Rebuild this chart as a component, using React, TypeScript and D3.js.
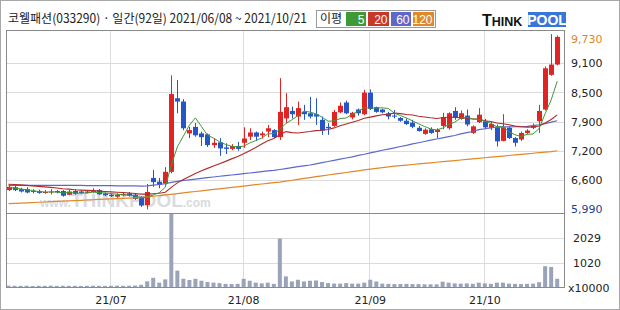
import React from "react";
import * as d3 from "d3";

const title = "코웰패션(033290) · 일간(92일) 2021/06/08 ~ 2021/10/21";
const legendTitle = "이평";
const legendLabels = ["5", "20", "60", "120"];
const legendColors = ["#3f9a35", "#c8382a", "#5f68c8", "#e0892a"];

const opens = [6400,6460,6420,6420,6360,6380,6340,6350,6380,6380,6300,6380,6370,6340,6360,6400,6330,6300,6260,6290,6330,6300,6260,6080,6660,6580,6540,6790,8360,8290,7610,7750,7610,7590,7360,7420,7310,7280,7340,7410,7540,7630,7570,7650,7680,7530,7930,8090,7970,8070,8040,8020,7900,7750,7770,8060,8270,7950,8120,8020,8480,8170,8120,8040,7990,7940,7880,7840,7730,7600,7700,7640,7770,7720,8090,7920,7990,7620,7850,7870,7730,7740,7450,7730,7510,7480,7620,7730,7870,8120,8860,9080];
const highs = [6520,6490,6450,6460,6420,6410,6400,6420,6400,6400,6400,6420,6390,6400,6440,6420,6350,6320,6330,6360,6360,6320,6270,6530,6830,6660,6890,8850,8750,8340,7750,7830,7650,7610,7510,7510,7400,7380,7430,7740,7720,7650,7650,7790,7700,8790,8470,8180,8290,8220,8390,8360,7970,7830,8110,8270,8310,8070,8140,8540,8550,8180,8140,8070,8110,7960,7930,7900,7770,7720,7740,7720,8050,8060,8170,8100,8120,7780,8150,7920,7860,7800,8020,7760,7530,7650,7700,7820,8220,9040,9730,9700];
const lows = [6380,6380,6350,6330,6330,6320,6320,6310,6330,6260,6290,6300,6320,6330,6340,6300,6270,6250,6240,6270,6260,6190,6040,5990,6470,6440,6500,6760,8040,7680,7510,7540,7340,7320,7300,7130,7170,7250,7240,7300,7470,7450,7500,7530,7510,7470,7830,7930,7790,7900,7930,7790,7580,7580,7750,8040,8020,7910,7990,8000,8110,8050,8040,7910,7930,7860,7790,7720,7650,7580,7600,7510,7700,7690,7900,7900,7760,7600,7830,7700,7680,7330,7440,7490,7330,7450,7600,7700,7620,8100,8840,9060];
const closes = [6470,6400,6370,6350,6380,6340,6360,6370,6350,6280,6370,6320,6340,6370,6390,6310,6290,6270,6300,6320,6280,6210,6070,6360,6570,6510,6790,8450,8290,7720,7680,7570,7530,7360,7410,7290,7280,7340,7280,7500,7630,7540,7610,7720,7530,8070,8170,8020,8150,8020,7970,7970,7670,7720,8070,8200,8040,8050,8040,8480,8130,8070,8060,7970,7980,7880,7810,7750,7660,7690,7620,7690,7960,8040,7940,8040,7800,7760,8010,7740,7810,7440,7740,7510,7410,7620,7670,7780,8090,9000,9080,9670];
// closes of the 19 sessions before the window (for the 5/20-day averages)
const priorCloses = [6480,6520,6560,6600,6580,6550,6600,6620,6580,6540,6560,6520,6500,6480,6500,6470,6450,6460,6430];
const ma60 = [6500,6500,6500,6500,6500,6500,6500,6500,6500,6500,6500,6500,6500,6495,6495,6495,6495,6495,6490,6490,6490,6490,6485,6490,6505,6520,6540,6565,6585,6605,6620,6635,6650,6665,6680,6695,6710,6722,6735,6750,6765,6780,6795,6810,6822,6840,6860,6880,6900,6918,6935,6960,6985,7010,7035,7060,7085,7110,7140,7165,7195,7220,7250,7275,7300,7330,7355,7385,7410,7437,7465,7490,7515,7540,7565,7600,7625,7650,7690,7710,7730,7745,7750,7750,7752,7755,7760,7775,7795,7820,7850,7880];
const ma120 = [6110,6116,6122,6128,6134,6140,6146,6152,6158,6164,6170,6176,6182,6188,6194,6200,6206,6212,6218,6224,6229,6234,6240,6255,6268,6282,6296,6310,6325,6340,6355,6370,6385,6400,6414,6428,6442,6456,6470,6485,6500,6515,6530,6545,6558,6572,6590,6610,6630,6650,6668,6686,6704,6722,6740,6758,6776,6794,6812,6830,6848,6864,6880,6895,6910,6922,6934,6946,6958,6970,6982,6994,7006,7018,7030,7042,7054,7066,7078,7090,7102,7114,7126,7138,7150,7162,7174,7186,7198,7210,7222,7240];
// volume in units of 10,000 shares
const volumes = [25,20,18,22,11,20,18,25,15,22,20,18,15,20,22,18,15,20,25,20,22,30,60,205,350,150,285,3038,650,310,260,310,230,175,150,130,100,90,100,310,230,150,120,150,100,1980,410,200,270,200,230,240,175,130,110,110,130,110,110,150,270,200,110,100,90,90,100,90,90,80,80,80,190,150,120,110,120,100,150,120,100,150,150,110,100,90,100,110,170,830,800,310];

const monthIdx = [17, 39, 60, 79];
const monthLabels = ["21/07", "21/08", "21/09", "21/10"];
const priceTickLabels = ["9,730", "9,100", "8,500", "7,900", "7,200", "6,600", "5,990"];
const volTickLabels = ["2029", "1020"];
const volUnit = "x10000";

const W = 620, H = 310;
const frameL = 6.5, frameR = 564.5, frameT = 30.5, sepY = 213.5, frameB = 287.5;
const UP = "#e02424", DOWN = "#2456c8";
const FONT = "'DejaVu Sans', 'Noto Sans CJK KR', sans-serif";
const NFONT = "'Liberation Sans', Arial, sans-serif";
const KFONT = "'Noto Sans CJK KR', 'DejaVu Sans', sans-serif";

export default function App() {
  const n = closes.length;
  const x = d3.scaleLinear().domain([0, n - 1]).range([8.5, 557.2]);
  const pMin = d3.min(lows) as number;
  const pMax = d3.max(highs) as number;
  const yP = d3.scaleLinear().domain([pMin, pMax]).range([209.3, 34.1]);
  const vExt = d3.extent(volumes) as [number, number];
  const yV = d3.scaleLinear().domain(vExt).range([287, 214]);

  const all = [...priorCloses, ...closes];
  const off = priorCloses.length;
  const maOf = (k: number) => closes.map((_, i) => d3.mean(all.slice(i + off - k + 1, i + off + 1)) as number);
  const ma5 = maOf(5);
  const ma20 = maOf(20);
  const line = d3.line<number>().x((_, i) => x(i)).y((d) => yP(d));

  const priceTicks = priceTickLabels.map((lab, k) => ({ lab, v: pMax - ((pMax - pMin) * k) / (priceTickLabels.length - 1) }));
  const volTicks = volTickLabels.map((lab, k) => ({ lab, v: vExt[0] + ((vExt[1] - vExt[0]) * (volTickLabels.length - k)) / (volTickLabels.length + 1) }));

  const bw = 4;
  return (
    <svg width={W} height={H} style={{ position: "absolute", left: 0, top: 0, background: "#fff" }}>
      <rect x={0.5} y={0.5} width={W - 1} height={H - 1} fill="#fff" stroke="#a8a8a8" />
      <text x={8} y={23} fontFamily={KFONT} fontSize={12.5} fill="#222" textLength={299} lengthAdjust="spacingAndGlyphs">{title}</text>
      {/* legend */}
      <g>
        <rect x={316.5} y={10.5} width={119} height={17} fill="#fff" stroke="#999" />
        <text x={320} y={23} fontFamily={KFONT} fontSize={12} fill="#222">{legendTitle}</text>
        {legendLabels.map((l, k) => {
          const xs = [346, 368, 391, 413][k];
          const ws = [20, 21, 20, 21][k];
          return (
            <g key={l}>
              <rect x={xs} y={12} width={ws} height={14} fill={legendColors[k]} />
              <text x={xs + ws - 1.5} y={23.5} textAnchor="end" fontFamily={NFONT} fontSize={12} fill="#fff">{l}</text>
            </g>
          );
        })}
      </g>
      {/* logo */}
      <g>
        <text x={482} y={26} fontFamily={NFONT} fontWeight="bold" fill="#111">
          <tspan fontSize={16}>T</tspan><tspan fontSize={12.5}>HINK</tspan>
        </text>
        <rect x={528} y={12} width={38} height={15} fill="#3a76d8" />
        <text x={547} y={25} textAnchor="middle" fontFamily={NFONT} fontWeight="bold" fontSize={14} fill="#fff">POOL</text>
      </g>

      {/* watermark */}
      <text x={40} y={207} fontFamily={NFONT} fontWeight="bold" fill="#c9ccd2" opacity={0.7}>
        <tspan fontSize={12}>www.</tspan><tspan fontSize={19}>THINKPOOL</tspan><tspan fontSize={12}>.com</tspan>
      </text>

      {/* grid */}
      {priceTicks.slice(1, -1).map((t) => (
        <line key={t.lab} x1={frameL} x2={frameR} y1={Math.round(yP(t.v)) + 0.5} y2={Math.round(yP(t.v)) + 0.5} stroke="#dcdcdc" />
      ))}
      {volTicks.map((t) => (
        <line key={t.lab} x1={frameL} x2={frameR} y1={Math.round(yV(t.v)) + 0.5} y2={Math.round(yV(t.v)) + 0.5} stroke="#dcdcdc" />
      ))}
      {monthIdx.map((mi) => (
        <line key={mi} x1={Math.round(x(mi)) - 0.5} x2={Math.round(x(mi)) - 0.5} y1={frameT} y2={frameB} stroke="#dcdcdc" />
      ))}

      {/* volume */}
      {volumes.map((v, i) => (
        <rect key={i} x={x(i) - bw / 2} y={yV(v) - 1} width={bw} height={Math.max(1, 287 - yV(v) + 1)} fill="#9aa3b8" />
      ))}

      {/* candles */}
      {closes.map((c, i) => {
        const o = opens[i];
        const col = c >= o ? UP : DOWN;
        const top = yP(Math.max(o, c));
        const bot = yP(Math.min(o, c));
        const cx = Math.round(x(i)) + 0.5;
        return (
          <g key={i}>
            <line x1={cx} x2={cx} y1={yP(highs[i])} y2={yP(lows[i])} stroke={col} />
            <rect x={cx - 2.5} y={top} width={5} height={Math.max(1, bot - top)} fill={col} />
          </g>
        );
      })}

      {/* moving averages */}
      <path d={line(ma120) || ""} fill="none" stroke={legendColors[3]} strokeWidth={1.2} />
      <path d={line(ma60) || ""} fill="none" stroke={legendColors[2]} strokeWidth={1.2} />
      <path d={line(ma20) || ""} fill="none" stroke="#b02a2a" strokeWidth={1.1} />
      <path d={line(ma5) || ""} fill="none" stroke="#3f9a35" strokeWidth={1} />

      {/* frame */}
      <rect x={frameL} y={frameT} width={frameR - frameL} height={frameB - frameT} fill="none" stroke="#8a8a8a" />
      <line x1={frameL} x2={frameR} y1={sepY} y2={sepY} stroke="#8a8a8a" />

      {/* right axis */}
      {priceTicks.map((t, k) => {
        let yy = yP(t.v) + 4;
        if (k === 0) yy = Math.max(yy, frameT + 12);
        const fill = k === 0 ? "#e0851e" : k === priceTicks.length - 1 ? "#1c3f94" : "#222";
        return (
          <text key={t.lab} x={571} y={yy} fontFamily={FONT} fontSize={11} fill={fill}>{t.lab}</text>
        );
      })}
      {volTicks.map((t) => (
        <text key={t.lab} x={573} y={yV(t.v) + 4} fontFamily={FONT} fontSize={11} fill="#222">{t.lab}</text>
      ))}
      <text x={568} y={292} fontFamily={FONT} fontSize={11} fill="#222">{volUnit}</text>

      {/* bottom axis */}
      {monthIdx.map((mi, k) => (
        <text key={mi} x={x(mi)} y={304} textAnchor="middle" fontFamily={FONT} fontSize={11} fill="#222">{monthLabels[k]}</text>
      ))}
    </svg>
  );
}
